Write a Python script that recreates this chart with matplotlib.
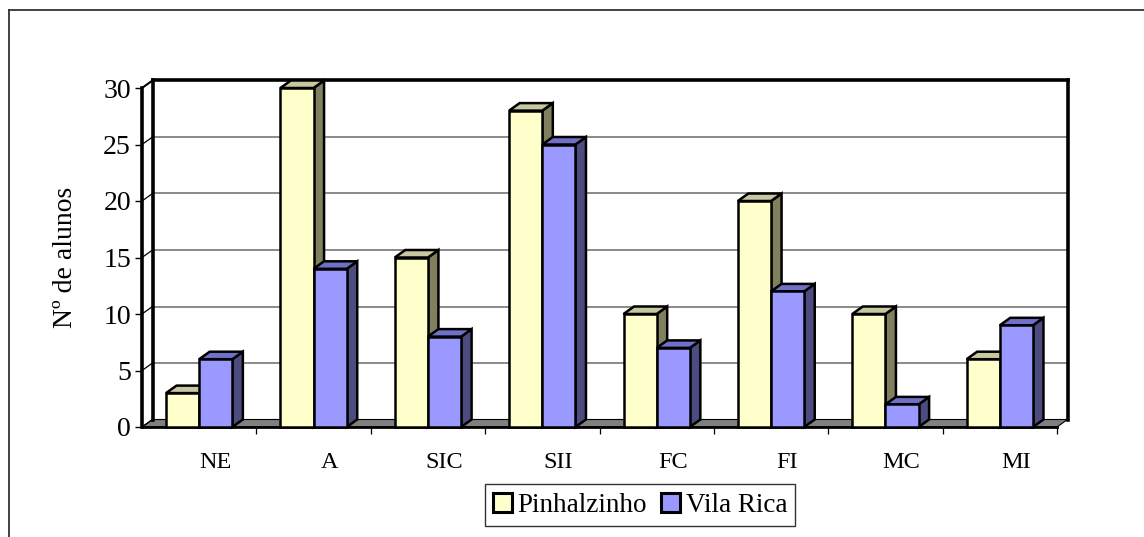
import matplotlib
matplotlib.use("Agg")
import matplotlib.pyplot as plt
from matplotlib.patches import Polygon, Patch
from matplotlib.lines import Line2D
import matplotlib.transforms as mtransforms

categories = ["NE", "A", "SIC", "SII", "FC", "FI", "MC", "MI"]
pinhalzinho = [3, 30, 15, 28, 10, 20, 10, 6]
vila_rica = [6, 14, 8, 25, 7, 12, 2, 9]
yticks = [0, 5, 10, 15, 20, 25, 30]
series_names = ["Pinhalzinho", "Vila Rica"]
y_label = "Nº de alunos"

W, H, DPI = 1144, 537, 100
FONT = ["Liberation Serif", "DejaVu Serif"]
plt.rcParams["font.family"] = FONT

fig = plt.figure(figsize=(W / DPI, H / DPI), dpi=DPI)
# front plane of the 3D box, in pixels
AX_L, AX_R, AX_T, AX_B = 142, 1057, 88, 427
ax = fig.add_axes([AX_L / W, 1 - AX_B / H, (AX_R - AX_L) / W, (AX_B - AX_T) / H])
n = len(categories)
ax.set_xlim(0, n)
ax.set_ylim(0, max(yticks))
for s in ax.spines.values():
    s.set_visible(False)

# depth offset in pixels -> data units
DX_PX, DY_PX = 10.5, 7.5
ddx = DX_PX / ((AX_R - AX_L) / n)
ddy = DY_PX / ((AX_B - AX_T) / max(yticks))

THICK = 2.6
GRID = "#808080"

# back wall gridlines
for v in yticks[1:-1]:
    ax.plot([ddx, n + ddx], [v + ddy, v + ddy], color=GRID, lw=1.3, zorder=1, clip_on=False)

# floor
floor = Polygon([(0, 0), (n, 0), (n + ddx, ddy), (ddx, ddy)], closed=True,
                facecolor="#808080", edgecolor="black", lw=0.8, zorder=1.5, clip_on=False)
ax.add_patch(floor)

# back wall frame
top = max(yticks)
ax.plot([ddx, n + ddx], [top + ddy, top + ddy], color="black", lw=THICK, zorder=2, clip_on=False,
        solid_capstyle="projecting")
ax.plot([n + ddx, n + ddx], [ddy, top + ddy], color="black", lw=THICK, zorder=2, clip_on=False,
        solid_capstyle="projecting")
ax.plot([ddx, ddx], [ddy, top + ddy], color="black", lw=THICK, zorder=2, clip_on=False)
# left wall
ax.plot([0, 0], [0, top], color="black", lw=THICK, zorder=2, clip_on=False)
ax.plot([0, ddx], [top, top + ddy], color="black", lw=1.5, zorder=2, clip_on=False)
for v in yticks[:-1]:
    ax.plot([0, ddx], [v, v + ddy], color="black", lw=0.9, zorder=2, clip_on=False)
ax.plot([0, n], [0, 0], color="black", lw=2.0, zorder=2.5, clip_on=False)

# bars
BW = 0.29
EDGE = dict(edgecolor="black", lw=1.8, joinstyle="miter", clip_on=False)
styles = [("#FFFFCC", "#C8C8A0", "#80805F"), ("#9999FF", "#7070C8", "#4C4C80")]
z = 3
for i in range(n):
    for k, vals in enumerate([pinhalzinho, vila_rica]):
        h = vals[i]
        x0 = i + 0.5 - BW + k * BW
        x1 = x0 + BW
        front, topc, side = styles[k]
        ax.add_patch(Polygon([(x1, 0), (x1 + ddx, ddy), (x1 + ddx, h + ddy), (x1, h)],
                             facecolor=side, zorder=z, **EDGE))
        ax.add_patch(Polygon([(x0, h), (x1, h), (x1 + ddx, h + ddy), (x0 + ddx, h + ddy)],
                             facecolor=topc, zorder=z, **EDGE))
        ax.add_patch(Polygon([(x0, 0), (x1, 0), (x1, h), (x0, h)],
                             facecolor=front, zorder=z + 0.1, **EDGE))
        z += 0.2

# y axis ticks
ax.set_yticks(yticks)
ax.tick_params(axis="y", length=5, width=1.0, direction="out", pad=3, labelsize=20)
# x axis
ax.set_xticks([i + 0.5 for i in range(n)])
ax.set_xticklabels(categories, fontsize=17.5)
ax.set_xticks(list(range(1, n + 1)), minor=True)
ax.tick_params(axis="x", which="major", length=0, pad=18)
ax.tick_params(axis="x", which="minor", length=5, width=0.9, direction="out")
off = mtransforms.ScaledTranslation(16 / DPI, 0, fig.dpi_scale_trans)
for lbl in ax.get_xticklabels():
    lbl.set_transform(lbl.get_transform() + off)

ax.set_ylabel(y_label, fontsize=20)
ax.yaxis.set_label_coords((78 - AX_L) / (AX_R - AX_L), 0.5)

# legend
handles = [Patch(facecolor=styles[0][0], edgecolor="black", lw=2.2),
           Patch(facecolor=styles[1][0], edgecolor="black", lw=2.2)]
leg = fig.legend(handles, series_names, loc="center", bbox_to_anchor=(640 / W, 1 - 505 / H),
                 ncol=2, fontsize=19.5, frameon=True, fancybox=False, edgecolor="black",
                 handlelength=0.7, handleheight=0.7, handletextpad=0.2, columnspacing=0.55,
                 borderpad=0.3, borderaxespad=0)
leg.get_frame().set_linewidth(1.0)

# outer chart frame
fig.add_artist(Line2D([9 / W, 1.0], [1 - 10 / H, 1 - 10 / H], color="#333333", lw=1.3))
fig.add_artist(Line2D([9 / W, 9 / W], [1 - 10 / H, 0], color="#333333", lw=1.3))

fig.savefig("out.png", dpi=DPI)
